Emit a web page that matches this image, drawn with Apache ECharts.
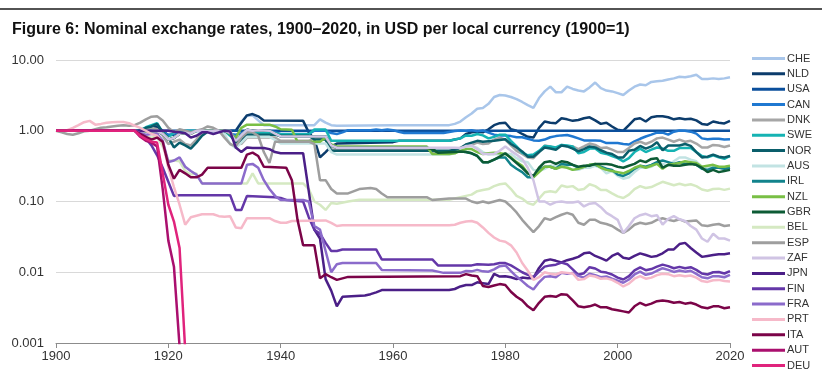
<!DOCTYPE html>
<html lang="en">
<head>
    <meta charset="UTF-8">
    <title>Nominal exchange rates</title>
    <script src='https://cdn.jsdelivr.net/npm/echarts@6/dist/echarts.min.js'></script>
</head>
<body style="margin: 0; background: #ffffff">
<div id="chart" style="width: 822px;height: 377px"></div>
</body>

<script>
    // values, [year, USD per local currency, 1900 = 1]
    let names = ['CHE', 'NLD', 'USA', 'CAN', 'DNK', 'SWE', 'NOR', 'AUS', 'IRL', 'NZL', 'GBR',
                 'BEL', 'ESP', 'ZAF', 'JPN', 'FIN', 'FRA', 'PRT', 'ITA', 'AUT', 'DEU'];
    let colors = ['#a9c6ea', '#0c3c6c', '#0b4f9c', '#1f78d1', '#a6a6a6', '#15b3b3', '#0a5e6b',
                  '#c2e3e3', '#12838c', '#79bf45', '#0d5b35', '#d5e9c2', '#9e9e9e', '#d0c4e4',
                  '#4b1f87', '#6437a8', '#8b6bcb', '#f6b9c9', '#7b0448', '#aa0f6e', '#e0237c'];
    let yTicks = [0.001, 0.01, 0.1, 1, 10];

    let CHE = [[1900,1],[1914,1],[1915,0.95],[1916,0.98],[1917,1.08],[1918,1.15],[1919,0.95],[1920,0.85],[1921,0.9],[1922,0.98],[1923,0.93],[1924,0.95],[1925,1],[1932,1],[1933,1.35],[1934,1.62],[1935,1.65],[1936,1.4],[1937,1.2],[1946,1.2],[1947,1.45],[1948,1.3],[1949,1.2],[1950,1.18],[1960,1.2],[1970,1.2],[1971,1.25],[1972,1.35],[1973,1.55],[1974,1.75],[1975,2.05],[1976,2.1],[1977,2.4],[1978,3.0],[1979,3.2],[1980,3.15],[1981,3.0],[1982,2.8],[1983,2.55],[1984,2.3],[1985,2.1],[1986,2.9],[1987,3.6],[1988,4.2],[1989,3.5],[1990,3.5],[1991,4.2],[1992,3.9],[1993,3.7],[1994,3.6],[1995,4.1],[1996,4.8],[1997,4.0],[1998,3.7],[1999,3.6],[2000,3.4],[2001,3.2],[2002,3.7],[2003,4.2],[2004,4.5],[2005,4.4],[2006,4.9],[2007,5.0],[2008,5.1],[2009,5.3],[2010,5.5],[2011,5.8],[2012,5.7],[2013,5.9],[2014,6.2],[2015,5.4],[2016,5.4],[2017,5.5],[2018,5.4],[2019,5.5],[2020,5.7]];
    let NLD = [[1900,1],[1914,1],[1916,1.05],[1917,1.1],[1918,1.15],[1919,1.0],[1920,0.86],[1921,0.88],[1922,0.96],[1923,0.95],[1924,0.93],[1925,1],[1932,1],[1933,1.3],[1934,1.65],[1935,1.72],[1936,1.6],[1937,1.4],[1944,1.38],[1945,0.95],[1946,0.75],[1947,0.42],[1948,0.5],[1949,0.6],[1950,0.66],[1960,0.69],[1961,0.72],[1970,0.72],[1971,0.75],[1972,0.78],[1973,0.9],[1974,0.95],[1975,0.97],[1976,0.95],[1977,1.05],[1978,1.2],[1979,1.28],[1980,1.3],[1981,1.05],[1982,1.0],[1983,0.9],[1984,0.82],[1985,0.8],[1986,1.1],[1987,1.35],[1988,1.3],[1989,1.28],[1990,1.5],[1991,1.45],[1992,1.38],[1993,1.42],[1994,1.5],[1995,1.55],[1996,1.4],[1997,1.25],[1998,1.3],[1999,1.15],[2000,1.03],[2001,1.0],[2002,1.2],[2003,1.45],[2004,1.5],[2005,1.35],[2006,1.55],[2007,1.6],[2008,1.6],[2009,1.55],[2010,1.45],[2011,1.5],[2012,1.45],[2013,1.48],[2014,1.4],[2015,1.25],[2016,1.22],[2017,1.35],[2018,1.3],[2019,1.27],[2020,1.38]];
    let USA = [[1900,1],[2020,1]];
    let CAN = [[1900,1],[1914,1],[1915,0.99],[1916,0.98],[1918,0.98],[1919,0.95],[1920,0.88],[1921,0.9],[1922,0.98],[1923,0.99],[1930,0.99],[1931,0.9],[1932,0.88],[1933,0.92],[1934,1.0],[1938,1.0],[1939,0.95],[1940,0.9],[1945,0.9],[1946,1.0],[1948,1.0],[1949,0.93],[1950,0.9],[1951,0.95],[1952,1.02],[1956,1.02],[1957,1.04],[1958,1.02],[1959,1.04],[1960,1.02],[1961,0.97],[1962,0.93],[1969,0.93],[1970,0.96],[1971,0.99],[1972,1.01],[1973,1.0],[1974,1.02],[1975,0.98],[1976,1.01],[1977,0.94],[1978,0.88],[1979,0.86],[1980,0.86],[1981,0.84],[1982,0.81],[1983,0.81],[1984,0.77],[1985,0.73],[1986,0.72],[1987,0.75],[1988,0.81],[1989,0.84],[1990,0.86],[1991,0.87],[1992,0.83],[1993,0.78],[1994,0.73],[1995,0.73],[1996,0.73],[1997,0.72],[1998,0.67],[1999,0.67],[2000,0.67],[2001,0.65],[2002,0.64],[2003,0.71],[2004,0.77],[2005,0.83],[2006,0.88],[2007,0.94],[2008,0.94],[2009,0.88],[2010,0.97],[2011,1.01],[2012,1.0],[2013,0.97],[2014,0.91],[2015,0.78],[2016,0.76],[2017,0.77],[2018,0.77],[2019,0.75],[2020,0.76]];
    let DNK = [[1900,1],[1915,1],[1916,1.05],[1917,1.1],[1918,1.05],[1919,0.85],[1920,0.65],[1921,0.7],[1922,0.75],[1923,0.65],[1924,0.62],[1925,0.75],[1926,0.95],[1927,1],[1931,1],[1932,0.7],[1933,0.65],[1934,0.8],[1939,0.8],[1940,0.72],[1945,0.72],[1946,0.78],[1948,0.78],[1949,0.55],[1950,0.54],[1966,0.54],[1967,0.5],[1970,0.5],[1971,0.52],[1972,0.55],[1973,0.64],[1974,0.63],[1975,0.68],[1976,0.65],[1977,0.66],[1978,0.75],[1979,0.8],[1980,0.75],[1981,0.62],[1982,0.52],[1983,0.47],[1984,0.42],[1985,0.41],[1986,0.5],[1987,0.62],[1988,0.6],[1989,0.56],[1990,0.63],[1991,0.61],[1992,0.6],[1993,0.55],[1994,0.6],[1995,0.66],[1996,0.63],[1997,0.57],[1998,0.58],[1999,0.54],[2000,0.5],[2001,0.5],[2002,0.57],[2003,0.66],[2004,0.7],[2005,0.65],[2006,0.7],[2007,0.78],[2008,0.8],[2009,0.75],[2010,0.7],[2011,0.75],[2012,0.7],[2013,0.72],[2014,0.66],[2015,0.58],[2016,0.58],[2017,0.63],[2018,0.62],[2019,0.59],[2020,0.62]];
    let SWE = [[1900,1],[1914,1],[1915,1.02],[1916,1.12],[1917,1.2],[1918,1.28],[1919,0.95],[1920,0.8],[1921,0.95],[1922,1],[1930,1],[1931,0.85],[1932,0.7],[1933,0.85],[1934,0.95],[1935,0.92],[1939,0.92],[1940,0.89],[1945,0.89],[1946,1.04],[1948,1.04],[1949,0.72],[1970,0.72],[1971,0.75],[1972,0.78],[1973,0.86],[1974,0.85],[1975,0.9],[1976,0.86],[1977,0.78],[1978,0.82],[1979,0.88],[1980,0.88],[1981,0.72],[1982,0.6],[1983,0.49],[1984,0.45],[1985,0.46],[1986,0.52],[1987,0.61],[1988,0.6],[1989,0.58],[1990,0.63],[1991,0.62],[1992,0.6],[1993,0.48],[1994,0.5],[1995,0.56],[1996,0.56],[1997,0.49],[1998,0.47],[1999,0.44],[2000,0.41],[2001,0.37],[2002,0.41],[2003,0.5],[2004,0.56],[2005,0.5],[2006,0.54],[2007,0.58],[2008,0.56],[2009,0.52],[2010,0.52],[2011,0.57],[2012,0.57],[2013,0.57],[2014,0.5],[2015,0.44],[2016,0.42],[2017,0.45],[2018,0.42],[2019,0.4],[2020,0.44]];
    let NOR = [[1900,1],[1915,1],[1916,1.1],[1917,1.15],[1918,1.25],[1919,0.95],[1920,0.8],[1921,0.58],[1922,0.68],[1923,0.62],[1924,0.56],[1925,0.68],[1926,0.85],[1927,0.97],[1928,1],[1930,1],[1931,0.9],[1932,0.68],[1933,0.72],[1934,0.88],[1939,0.88],[1940,0.85],[1945,0.85],[1946,0.75],[1948,0.75],[1949,0.52],[1970,0.52],[1971,0.54],[1972,0.57],[1973,0.64],[1974,0.68],[1975,0.72],[1976,0.7],[1977,0.71],[1978,0.72],[1979,0.74],[1980,0.76],[1981,0.65],[1982,0.58],[1983,0.51],[1984,0.43],[1985,0.43],[1986,0.5],[1987,0.58],[1988,0.56],[1989,0.54],[1990,0.62],[1991,0.6],[1992,0.56],[1993,0.51],[1994,0.55],[1995,0.6],[1996,0.58],[1997,0.53],[1998,0.49],[1999,0.47],[2000,0.42],[2001,0.42],[2002,0.52],[2003,0.54],[2004,0.61],[2005,0.56],[2006,0.6],[2007,0.69],[2008,0.53],[2009,0.62],[2010,0.62],[2011,0.62],[2012,0.65],[2013,0.61],[2014,0.5],[2015,0.42],[2016,0.43],[2017,0.46],[2018,0.43],[2019,0.42],[2020,0.44]];
    let AUS = [[1900,1],[1914,1],[1915,0.98],[1918,0.98],[1919,0.92],[1920,0.78],[1921,0.8],[1922,0.91],[1923,0.94],[1924,0.9],[1925,1],[1929,1],[1930,0.9],[1931,0.65],[1932,0.57],[1933,0.68],[1934,0.82],[1938,0.82],[1939,0.74],[1940,0.66],[1948,0.66],[1949,0.5],[1950,0.46],[1970,0.46],[1971,0.48],[1972,0.53],[1973,0.61],[1974,0.61],[1975,0.57],[1976,0.5],[1977,0.46],[1978,0.47],[1979,0.46],[1980,0.47],[1981,0.47],[1982,0.41],[1983,0.37],[1984,0.36],[1985,0.28],[1986,0.27],[1987,0.29],[1988,0.32],[1989,0.32],[1990,0.32],[1991,0.31],[1992,0.28],[1993,0.28],[1994,0.3],[1995,0.3],[1996,0.32],[1997,0.3],[1998,0.25],[1999,0.27],[2000,0.23],[2001,0.21],[2002,0.22],[2003,0.26],[2004,0.3],[2005,0.3],[2006,0.31],[2007,0.35],[2008,0.34],[2009,0.32],[2010,0.37],[2011,0.42],[2012,0.42],[2013,0.39],[2014,0.37],[2015,0.31],[2016,0.3],[2017,0.32],[2018,0.31],[2019,0.28],[2020,0.28]];
    let IRL = [[1900,1],[1914,1],[1915,0.97],[1916,0.98],[1918,0.98],[1919,0.9],[1920,0.75],[1921,0.79],[1922,0.91],[1923,0.94],[1924,0.91],[1925,1],[1930,1],[1931,0.93],[1932,0.72],[1933,0.87],[1934,1.03],[1935,1.0],[1936,1.02],[1937,1.01],[1938,1.0],[1939,0.91],[1940,0.83],[1948,0.83],[1949,0.62],[1950,0.575],[1966,0.575],[1967,0.55],[1968,0.49],[1971,0.5],[1972,0.51],[1973,0.5],[1974,0.48],[1975,0.44],[1976,0.36],[1977,0.36],[1978,0.39],[1979,0.42],[1980,0.42],[1981,0.33],[1982,0.29],[1983,0.26],[1984,0.22],[1985,0.22],[1986,0.28],[1987,0.31],[1988,0.31],[1989,0.29],[1990,0.34],[1991,0.33],[1992,0.33],[1993,0.3],[1994,0.31],[1995,0.33],[1996,0.33],[1997,0.31],[1998,0.29],[1999,0.28],[2000,0.24],[2001,0.23],[2002,0.25],[2003,0.29],[2004,0.32],[2005,0.31],[2006,0.33],[2007,0.36],[2008,0.38],[2009,0.36],[2010,0.34],[2011,0.36],[2012,0.34],[2013,0.35],[2014,0.33],[2015,0.29],[2016,0.28],[2017,0.3],[2018,0.3],[2019,0.29],[2020,0.3]];
    let NZL = [[1900,1],[1914,1],[1915,0.97],[1918,0.98],[1919,0.9],[1920,0.75],[1921,0.79],[1922,0.91],[1923,0.94],[1924,0.91],[1925,1],[1930,1],[1931,0.9],[1932,0.8],[1933,1.1],[1934,1.22],[1938,1.22],[1939,1.15],[1940,1.05],[1942,1.03],[1943,0.7],[1947,0.7],[1948,0.8],[1949,0.64],[1950,0.6],[1966,0.6],[1967,0.47],[1970,0.47],[1971,0.48],[1972,0.52],[1973,0.55],[1974,0.55],[1975,0.5],[1976,0.47],[1977,0.48],[1978,0.49],[1979,0.48],[1980,0.47],[1981,0.42],[1982,0.36],[1983,0.32],[1984,0.25],[1985,0.22],[1986,0.26],[1987,0.31],[1988,0.31],[1989,0.29],[1990,0.31],[1991,0.3],[1992,0.28],[1993,0.29],[1994,0.31],[1995,0.33],[1996,0.34],[1997,0.3],[1998,0.28],[1999,0.27],[2000,0.26],[2001,0.25],[2002,0.27],[2003,0.3],[2004,0.32],[2005,0.3],[2006,0.32],[2007,0.34],[2008,0.29],[2009,0.33],[2010,0.34],[2011,0.35],[2012,0.37],[2013,0.36],[2014,0.35],[2015,0.31],[2016,0.32],[2017,0.33],[2018,0.31],[2019,0.31],[2020,0.32]];
    let GBR = [[1900,1],[1914,1],[1915,0.97],[1916,0.98],[1918,0.98],[1919,0.9],[1920,0.75],[1921,0.79],[1922,0.91],[1923,0.94],[1924,0.91],[1925,1],[1930,1],[1931,0.93],[1932,0.72],[1933,0.87],[1934,1.03],[1935,1.0],[1936,1.02],[1937,1.01],[1938,1.0],[1939,0.91],[1940,0.83],[1948,0.83],[1949,0.62],[1950,0.575],[1966,0.575],[1967,0.55],[1968,0.49],[1971,0.5],[1972,0.51],[1973,0.5],[1974,0.48],[1975,0.44],[1976,0.36],[1977,0.36],[1978,0.39],[1979,0.43],[1980,0.48],[1981,0.41],[1982,0.35],[1983,0.3],[1984,0.25],[1985,0.23],[1986,0.3],[1987,0.36],[1988,0.37],[1989,0.34],[1990,0.37],[1991,0.36],[1992,0.33],[1993,0.31],[1994,0.32],[1995,0.32],[1996,0.34],[1997,0.34],[1998,0.34],[1999,0.33],[2000,0.31],[2001,0.3],[2002,0.32],[2003,0.34],[2004,0.38],[2005,0.36],[2006,0.4],[2007,0.41],[2008,0.3],[2009,0.33],[2010,0.32],[2011,0.32],[2012,0.33],[2013,0.34],[2014,0.33],[2015,0.3],[2016,0.26],[2017,0.28],[2018,0.26],[2019,0.27],[2020,0.28]];
    let BEL = [[1900,1],[1914,1],[1915,0.88],[1916,0.82],[1917,0.8],[1918,0.82],[1919,0.6],[1920,0.38],[1921,0.38],[1922,0.37],[1923,0.27],[1924,0.24],[1925,0.25],[1926,0.18],[1934,0.18],[1935,0.25],[1936,0.18],[1944,0.18],[1945,0.15],[1946,0.1],[1947,0.09],[1948,0.076],[1949,0.095],[1950,0.093],[1952,0.1],[1954,0.106],[1970,0.106],[1971,0.11],[1972,0.115],[1973,0.12],[1974,0.125],[1975,0.14],[1976,0.145],[1977,0.15],[1978,0.165],[1979,0.175],[1980,0.18],[1981,0.15],[1982,0.12],[1983,0.11],[1984,0.095],[1985,0.09],[1986,0.11],[1987,0.135],[1988,0.14],[1989,0.135],[1990,0.168],[1991,0.16],[1992,0.165],[1993,0.145],[1994,0.15],[1995,0.175],[1996,0.165],[1997,0.145],[1998,0.145],[1999,0.13],[2000,0.118],[2001,0.112],[2002,0.125],[2003,0.15],[2004,0.165],[2005,0.155],[2006,0.16],[2007,0.175],[2008,0.19],[2009,0.18],[2010,0.17],[2011,0.178],[2012,0.17],[2013,0.175],[2014,0.165],[2015,0.148],[2016,0.142],[2017,0.15],[2018,0.152],[2019,0.146],[2020,0.152]];
    let ESP = [[1900,1],[1901,0.95],[1902,0.9],[1903,0.88],[1904,0.92],[1905,0.98],[1906,1.0],[1907,1.05],[1908,1.1],[1909,1.12],[1910,1.15],[1911,1.18],[1912,1.2],[1913,1.18],[1914,1.2],[1915,1.3],[1916,1.45],[1917,1.58],[1918,1.6],[1919,1.4],[1920,1.1],[1921,0.95],[1922,1.05],[1923,1.0],[1924,0.95],[1925,1.0],[1926,1.05],[1927,1.15],[1928,1.1],[1929,1.0],[1930,0.8],[1931,0.65],[1932,0.6],[1933,0.8],[1934,0.95],[1935,0.95],[1936,0.85],[1937,0.5],[1938,0.35],[1939,0.7],[1945,0.7],[1946,0.65],[1947,0.2],[1948,0.2],[1949,0.15],[1950,0.13],[1952,0.13],[1954,0.15],[1956,0.155],[1957,0.15],[1958,0.13],[1959,0.115],[1966,0.115],[1967,0.105],[1970,0.11],[1973,0.11],[1974,0.1],[1975,0.095],[1976,0.1],[1977,0.095],[1978,0.1],[1979,0.105],[1980,0.1],[1981,0.085],[1982,0.07],[1983,0.055],[1984,0.045],[1985,0.037],[1986,0.045],[1987,0.058],[1988,0.055],[1989,0.06],[1990,0.065],[1991,0.069],[1992,0.065],[1993,0.05],[1994,0.047],[1995,0.055],[1996,0.055],[1997,0.05],[1998,0.048],[1999,0.045],[2000,0.04],[2001,0.036],[2002,0.04],[2003,0.047],[2004,0.05],[2005,0.048],[2006,0.05],[2007,0.055],[2008,0.058],[2009,0.055],[2010,0.053],[2011,0.056],[2012,0.052],[2013,0.053],[2014,0.054],[2015,0.046],[2016,0.045],[2017,0.047],[2018,0.048],[2019,0.045],[2020,0.046]];
    let ZAF = [[1900,1],[1914,1],[1915,0.97],[1916,0.98],[1918,0.98],[1919,0.9],[1920,0.75],[1921,0.79],[1922,0.91],[1923,0.94],[1924,0.91],[1925,1],[1930,1],[1931,0.93],[1932,0.72],[1933,0.87],[1934,1.03],[1935,1.0],[1936,1.02],[1937,1.01],[1938,1.0],[1939,0.91],[1940,0.83],[1948,0.83],[1949,0.62],[1950,0.575],[1971,0.575],[1972,0.57],[1973,0.6],[1974,0.62],[1975,0.55],[1976,0.47],[1977,0.47],[1978,0.47],[1979,0.52],[1980,0.6],[1981,0.52],[1982,0.46],[1983,0.4],[1984,0.3],[1985,0.2],[1986,0.1],[1987,0.1],[1988,0.09],[1989,0.098],[1990,0.1],[1991,0.097],[1992,0.097],[1993,0.1],[1994,0.085],[1995,0.093],[1996,0.095],[1997,0.083],[1998,0.069],[1999,0.062],[2000,0.055],[2001,0.036],[2002,0.045],[2003,0.058],[2004,0.064],[2005,0.067],[2006,0.062],[2007,0.064],[2008,0.047],[2009,0.057],[2010,0.062],[2011,0.056],[2012,0.053],[2013,0.045],[2014,0.04],[2015,0.03],[2016,0.027],[2017,0.035],[2018,0.03],[2019,0.03],[2020,0.028]];
    let JPN = [[1900,1],[1920,1],[1921,0.97],[1922,0.95],[1923,0.92],[1924,0.8],[1925,0.85],[1926,0.95],[1927,0.95],[1928,0.9],[1929,0.95],[1930,1],[1931,0.98],[1932,0.58],[1933,0.5],[1934,0.58],[1935,0.57],[1937,0.57],[1938,0.55],[1939,0.5],[1940,0.48],[1944,0.48],[1945,0.14],[1946,0.04],[1947,0.03],[1948,0.008],[1949,0.0055],[1950,0.0033],[1951,0.0045],[1955,0.0047],[1956,0.0049],[1957,0.0052],[1958,0.0056],[1970,0.0056],[1971,0.0058],[1972,0.0063],[1973,0.0066],[1974,0.0066],[1975,0.0072],[1976,0.007],[1977,0.0068],[1978,0.0095],[1979,0.0087],[1980,0.0088],[1981,0.0085],[1982,0.008],[1983,0.0084],[1984,0.0082],[1985,0.0083],[1986,0.0115],[1987,0.0145],[1988,0.0152],[1989,0.0145],[1990,0.0138],[1991,0.0148],[1992,0.0155],[1993,0.0165],[1994,0.0185],[1995,0.019],[1996,0.017],[1997,0.0158],[1998,0.0146],[1999,0.017],[2000,0.0185],[2001,0.016],[2002,0.0155],[2003,0.017],[2004,0.0185],[2005,0.0175],[2006,0.0165],[2007,0.017],[2008,0.0185],[2009,0.021],[2010,0.021],[2011,0.025],[2012,0.026],[2013,0.022],[2014,0.019],[2015,0.0165],[2016,0.017],[2017,0.0175],[2018,0.018],[2019,0.018],[2020,0.0185]];
    let FIN = [[1900,1],[1914,1],[1915,0.88],[1916,0.78],[1917,0.62],[1918,0.45],[1919,0.3],[1920,0.19],[1921,0.12],[1922,0.123],[1931,0.123],[1932,0.076],[1933,0.076],[1934,0.12],[1939,0.115],[1940,0.112],[1941,0.105],[1944,0.1],[1945,0.06],[1946,0.04],[1947,0.035],[1948,0.026],[1949,0.02],[1950,0.02],[1951,0.021],[1957,0.021],[1958,0.0152],[1967,0.0152],[1968,0.0125],[1974,0.0125],[1975,0.013],[1977,0.0128],[1978,0.013],[1979,0.0135],[1980,0.0135],[1981,0.0125],[1982,0.0112],[1983,0.01],[1984,0.0092],[1985,0.0085],[1986,0.0102],[1987,0.012],[1988,0.0125],[1989,0.0128],[1990,0.0137],[1991,0.013],[1992,0.011],[1993,0.0092],[1994,0.0097],[1995,0.0118],[1996,0.0113],[1997,0.0102],[1998,0.0099],[1999,0.0093],[2000,0.0084],[2001,0.0079],[2002,0.0088],[2003,0.0106],[2004,0.0117],[2005,0.0107],[2006,0.0111],[2007,0.012],[2008,0.0128],[2009,0.0122],[2010,0.0114],[2011,0.0119],[2012,0.0114],[2013,0.0118],[2014,0.0108],[2015,0.0096],[2016,0.0093],[2017,0.01],[2018,0.0101],[2019,0.0096],[2020,0.0104]];
    let FRA = [[1900,1],[1914,1],[1915,0.92],[1916,0.88],[1917,0.9],[1918,0.91],[1919,0.72],[1920,0.36],[1921,0.38],[1922,0.42],[1923,0.31],[1924,0.27],[1925,0.24],[1926,0.18],[1933,0.18],[1934,0.33],[1935,0.34],[1936,0.3],[1937,0.2],[1938,0.15],[1939,0.12],[1940,0.105],[1944,0.105],[1945,0.1],[1946,0.045],[1947,0.04],[1948,0.02],[1949,0.01],[1950,0.013],[1951,0.0135],[1957,0.0135],[1958,0.0108],[1967,0.0106],[1968,0.0102],[1969,0.0098],[1972,0.0098],[1973,0.0104],[1974,0.0103],[1975,0.0108],[1976,0.0103],[1977,0.0102],[1978,0.011],[1979,0.0122],[1980,0.0125],[1981,0.0104],[1982,0.0087],[1983,0.0075],[1984,0.0064],[1985,0.0057],[1986,0.0072],[1987,0.0086],[1988,0.0088],[1989,0.0085],[1990,0.0098],[1991,0.0095],[1992,0.0098],[1993,0.0089],[1994,0.0084],[1995,0.0095],[1996,0.0091],[1997,0.0085],[1998,0.0087],[1999,0.0081],[2000,0.0076],[2001,0.0071],[2002,0.0079],[2003,0.0093],[2004,0.0102],[2005,0.0092],[2006,0.0096],[2007,0.0105],[2008,0.0114],[2009,0.0108],[2010,0.0101],[2011,0.0106],[2012,0.0102],[2013,0.0105],[2014,0.0095],[2015,0.0085],[2016,0.0082],[2017,0.0088],[2018,0.0088],[2019,0.0085],[2020,0.0092]];
    let PRT = [[1900,1],[1901,1.0],[1902,1.02],[1903,1.1],[1904,1.2],[1905,1.32],[1906,1.38],[1907,1.22],[1908,1.25],[1909,1.3],[1910,1.32],[1911,1.33],[1912,1.33],[1913,1.28],[1914,1.18],[1915,1.1],[1916,1.0],[1917,0.9],[1918,0.85],[1919,0.68],[1920,0.3],[1921,0.16],[1922,0.09],[1923,0.047],[1924,0.06],[1925,0.063],[1926,0.066],[1928,0.066],[1929,0.062],[1930,0.061],[1931,0.062],[1932,0.043],[1933,0.042],[1934,0.058],[1938,0.058],[1939,0.053],[1940,0.05],[1941,0.05],[1942,0.053],[1948,0.054],[1949,0.05],[1950,0.045],[1951,0.046],[1970,0.046],[1971,0.047],[1972,0.05],[1973,0.052],[1974,0.053],[1975,0.05],[1976,0.043],[1977,0.036],[1978,0.031],[1979,0.028],[1980,0.027],[1981,0.024],[1982,0.019],[1983,0.0135],[1984,0.0105],[1985,0.0078],[1986,0.0085],[1987,0.01],[1988,0.0095],[1989,0.0093],[1990,0.01],[1991,0.0098],[1992,0.0096],[1993,0.0078],[1994,0.008],[1995,0.009],[1996,0.0087],[1997,0.0081],[1998,0.0082],[1999,0.0078],[2000,0.0071],[2001,0.0063],[2002,0.0069],[2003,0.0081],[2004,0.0088],[2005,0.0081],[2006,0.0084],[2007,0.0091],[2008,0.0095],[2009,0.0094],[2010,0.0088],[2011,0.0091],[2012,0.0088],[2013,0.009],[2014,0.0084],[2015,0.0075],[2016,0.0073],[2017,0.0077],[2018,0.0078],[2019,0.0075],[2020,0.0074]];
    let ITA = [[1900,1],[1914,1],[1915,0.9],[1916,0.82],[1917,0.75],[1918,0.8],[1919,0.7],[1920,0.33],[1921,0.21],[1922,0.28],[1923,0.25],[1924,0.22],[1925,0.22],[1926,0.24],[1927,0.3],[1933,0.3],[1934,0.46],[1935,0.49],[1936,0.44],[1937,0.31],[1941,0.3],[1942,0.2],[1943,0.055],[1944,0.024],[1946,0.024],[1947,0.0082],[1948,0.0094],[1949,0.0085],[1950,0.0078],[1951,0.0082],[1952,0.0086],[1972,0.0088],[1973,0.0094],[1974,0.009],[1975,0.0088],[1976,0.0064],[1977,0.0062],[1978,0.0065],[1979,0.0068],[1980,0.0066],[1981,0.0053],[1982,0.0045],[1983,0.004],[1984,0.0033],[1985,0.0029],[1986,0.0037],[1987,0.0045],[1988,0.0046],[1989,0.0045],[1990,0.0049],[1991,0.0048],[1992,0.004],[1993,0.0033],[1994,0.0032],[1995,0.0033],[1996,0.0035],[1997,0.0032],[1998,0.0032],[1999,0.003],[2000,0.0029],[2001,0.0028],[2002,0.0027],[2003,0.0033],[2004,0.0037],[2005,0.0034],[2006,0.0036],[2007,0.0039],[2008,0.004],[2009,0.0039],[2010,0.0037],[2011,0.0038],[2012,0.0036],[2013,0.0037],[2014,0.0035],[2015,0.0032],[2016,0.0031],[2017,0.0033],[2018,0.0033],[2019,0.0031],[2020,0.0032]];
    let AUT = [[1900,1],[1914,1],[1915,0.82],[1916,0.72],[1917,0.68],[1918,0.6],[1919,0.15],[1920,0.028],[1921,0.012],[1922,0.0009],[1923,0.00001]];
    let DEU = [[1900,1],[1914,1],[1915,0.85],[1916,0.76],[1917,0.7],[1918,0.68],[1919,0.25],[1920,0.09],[1921,0.052],[1922,0.022],[1923,0.0008],[1924,0.0000001]];

    let seriesData = [CHE, NLD, USA, CAN, DNK, SWE, NOR, AUS, IRL, NZL, GBR,
                      BEL, ESP, ZAF, JPN, FIN, FRA, PRT, ITA, AUT, DEU];

    let chart = echarts.init(document.getElementById('chart'));

    let series = [];
    for (let i = 0; i < names.length; i++) {
        series.push({
            name: names[i],
            type: 'line',
            data: seriesData[i],
            symbol: 'none',
            clip: true,
            color: colors[i],
            lineStyle: { width: 2.5, color: colors[i] },
            emphasis: { disabled: true }
        });
    }

    let option = {
        animation: false,
        textStyle: { fontFamily: 'Liberation Sans' },
        graphic: [{
            type: 'line',
            shape: { x1: 0, y1: 9, x2: 822, y2: 9 },
            style: { stroke: '#1a1a1a', lineWidth: 1.5 }
        }],
        title: {
            text: 'Figure 6: Nominal exchange rates, 1900\u20132020, in USD per local currency (1900=1)',
            left: 7,
            top: 17,
            textStyle: { fontSize: 16, fontWeight: 'bold', color: '#111111', fontFamily: 'Liberation Sans' }
        },
        legend: {
            data: names,
            orient: 'vertical',
            left: 752,
            top: 53,
            padding: 0,
            height: 322,
            icon: 'rect',
            itemWidth: 33,
            itemHeight: 3,
            itemGap: 4.35,
            textStyle: { fontSize: 11, color: '#333333', padding: [0, 0, 0, -3] }
        },
        grid: { left: 56, right: 92, top: 60, bottom: 34 },
        xAxis: {
            type: 'value',
            min: 1900,
            max: 2020,
            interval: 20,
            axisLine: { lineStyle: { color: '#8c8c8c', width: 1 } },
            axisTick: { show: true, length: 5, lineStyle: { color: '#8c8c8c' } },
            axisLabel: {
                color: '#333333',
                fontSize: 13,
                margin: 7,
                formatter: function (v) { return String(v); }
            },
            splitLine: { show: false }
        },
        yAxis: {
            type: 'log',
            logBase: 10,
            min: yTicks[0],
            max: yTicks[yTicks.length - 1],
            axisLine: { show: false },
            axisTick: { show: false },
            axisLabel: {
                color: '#333333',
                fontSize: 13,
                margin: 12,
                formatter: function (v) {
                    let e = Math.round(Math.log10(v));
                    return e >= -2 ? v.toFixed(2) : v.toFixed(-e);
                }
            },
            splitLine: { lineStyle: { color: '#d9d9d9', width: 1 } }
        },
        series: series
    };

    chart.setOption(option);
</script>

</html>
